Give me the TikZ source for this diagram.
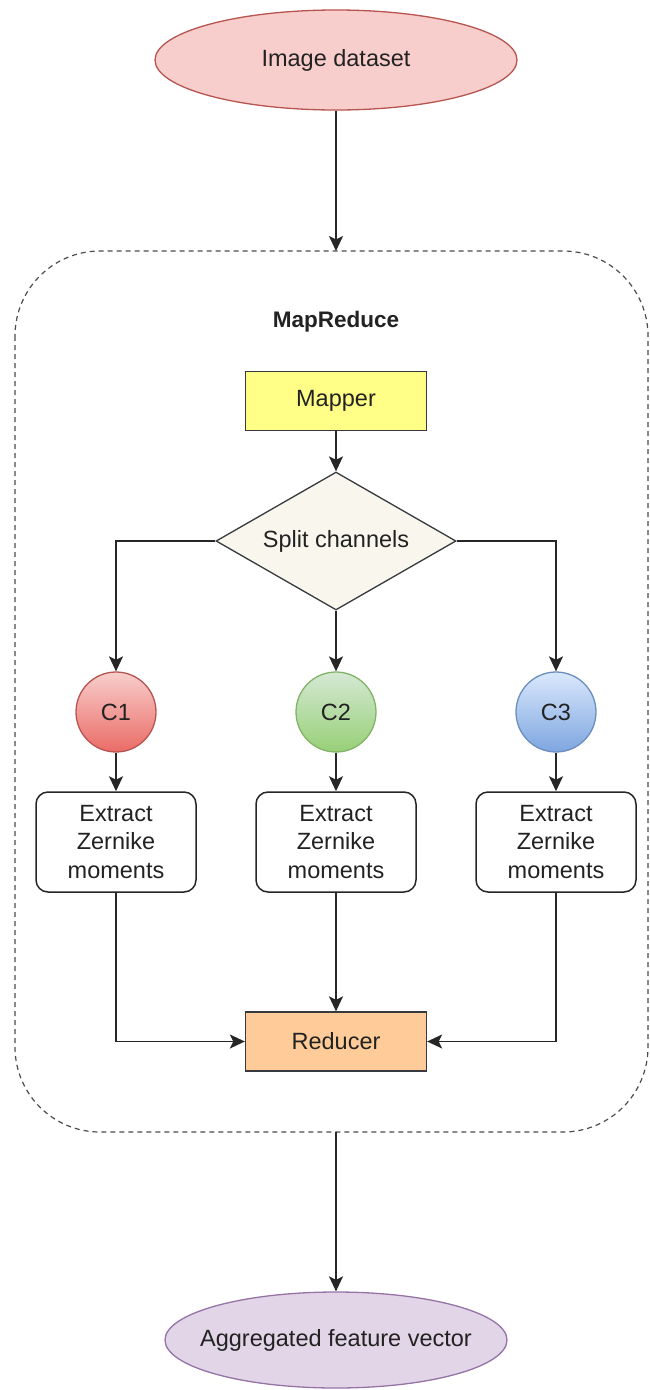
\documentclass[tikz,border=0pt]{standalone}
\usepackage{fontspec}
\setmainfont{Liberation Sans}
\usetikzlibrary{shapes.geometric,arrows.meta}
\definecolor{txt}{HTML}{222222}
\definecolor{redfill}{HTML}{F8CECC}
\definecolor{redline}{HTML}{B85450}
\definecolor{redbot}{HTML}{EA6B66}
\definecolor{greenfill}{HTML}{D5E8D4}
\definecolor{greenbot}{HTML}{97D077}
\definecolor{greenline}{HTML}{82B366}
\definecolor{bluefill}{HTML}{DAE8FC}
\definecolor{bluebot}{HTML}{7EA6E0}
\definecolor{blueline}{HTML}{6C8EBF}
\definecolor{yellowfill}{HTML}{FFFF88}
\definecolor{orangefill}{HTML}{FFCC99}
\definecolor{purplefill}{HTML}{E1D5E7}
\definecolor{purpleline}{HTML}{9673A6}
\definecolor{diafill}{HTML}{F9F7ED}
\definecolor{boxline}{HTML}{36393D}
\tikzset{
  every node/.style={font=\fontsize{23.5pt}{28.5pt}\selectfont, text=txt},
  conn/.style={draw=black!85, line width=1.6pt, -{Stealth[length=15pt,width=14pt,inset=3.5pt]}},
  oval/.style={ellipse, inner sep=0pt, line width=1.3pt},
  rectbox/.style={rectangle, draw=boxline, line width=1.3pt, minimum width=181pt, minimum height=59pt, inner sep=0pt},
  chan/.style={circle, minimum size=80pt, inner sep=0pt, line width=1.3pt},
  extract/.style={rectangle, rounded corners=12pt, draw=black!85, line width=1.5pt, fill=white, minimum width=160pt, minimum height=100pt, inner sep=0pt, align=center}
}
\begin{document}
\begin{tikzpicture}[x=1pt,y=-1pt]
\useasboundingbox (0,0) rectangle (649,1390);
% container
\draw[draw=black!70, line width=1.2pt, dash pattern=on 5pt off 4pt, rounded corners=85pt] (15,251) rectangle (648,1132);
\coordinate (ctop) at (336,251);
\coordinate (cbot) at (336,1132);
\node[font=\bfseries\fontsize{22.5pt}{26pt}\selectfont] (mr) at (336,322) {MapReduce};

\node[oval, draw=redline, fill=redfill, minimum width=362pt, minimum height=100pt] (img) at (336,60) {};
\node (imgtext) at (img.center) {Image dataset};
\node[rectbox, fill=yellowfill] (map) at (336,401) {Mapper};
\node[diamond, draw=boxline, fill=diafill, line width=1.3pt, minimum width=240pt, minimum height=138pt, inner sep=0pt, aspect=1.74] (split) at (336,541) {Split channels};
\node[chan, draw=redline, top color=redfill, bottom color=redbot] (c1) at (116,712) {C1};
\node[chan, draw=greenline, top color=greenfill, bottom color=greenbot] (c2) at (336,712) {C2};
\node[chan, draw=blueline, top color=bluefill, bottom color=bluebot] (c3) at (556,712) {C3};
\node[extract] (e1) at (116,842) {Extract\\Zernike\\moments};
\node[extract] (e2) at (336,842) {Extract\\Zernike\\moments};
\node[extract] (e3) at (556,842) {Extract\\Zernike\\moments};
\node[rectbox, fill=orangefill] (red) at (336,1041.5) {Reducer};
\node[oval, draw=purpleline, fill=purplefill, minimum width=342pt, minimum height=96pt] (agg) at (336,1340) {};
\node (aggtext) at (agg.center) {Aggregated feature vector};

\draw[conn] (img.south) -- (ctop);
\draw[conn] (map.south) -- (split.north);
\draw[conn] (split.west) -| (c1.north);
\draw[conn] (split.south) -- (c2.north);
\draw[conn] (split.east) -| (c3.north);
\draw[conn] (c1.south) -- (e1.north);
\draw[conn] (c2.south) -- (e2.north);
\draw[conn] (c3.south) -- (e3.north);
\draw[conn] (e1.south) |- (red.west);
\draw[conn] (e2.south) -- (red.north);
\draw[conn] (e3.south) |- (red.east);
\draw[conn] (cbot) -- (agg.north);
\end{tikzpicture}
\end{document}
